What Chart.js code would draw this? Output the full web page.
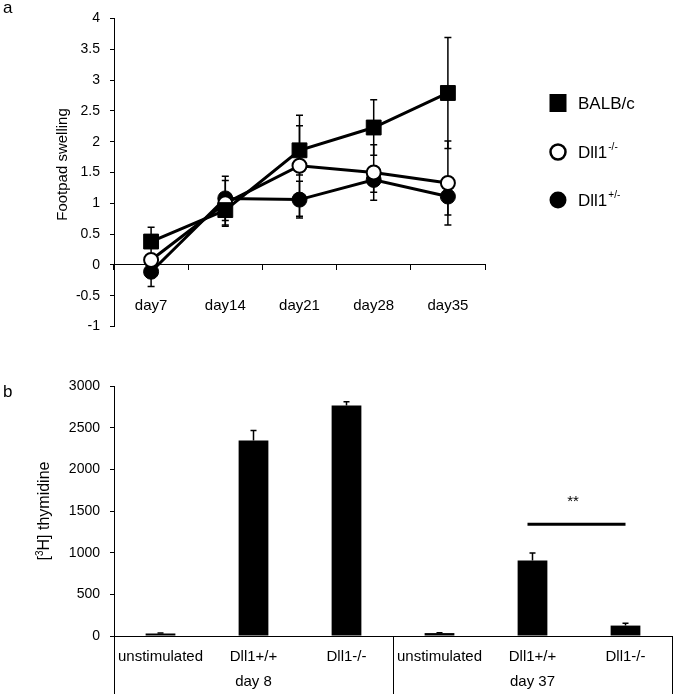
<!DOCTYPE html>
<html>
<head>
<meta charset="utf-8">
<script src="https://cdn.jsdelivr.net/npm/chart.js@4.4.1/dist/chart.umd.min.js"></script>
<style>
  body { margin: 0; background: #fff; }
  #wrap { position: relative; width: 675px; height: 694px; }
  #chartA { position: absolute; left: 0; top: 0; }
  #chartB { position: absolute; left: 0; top: 345px; }
</style>
</head>
<body>
<div id="wrap">
  <canvas id="chartA" width="675" height="345"></canvas>
  <canvas id="chartB" width="675" height="349"></canvas>
</div>
<script>
// panel a: footpad swelling
const days = ['day7', 'day14', 'day21', 'day28', 'day35'];
const balbMean = [0.38, 0.89, 1.86, 2.23, 2.79];
const balbErr = [0.23, 0.24, 0.4, 0.45, 0.9];
const koMean = [0.08, 1.0, 1.61, 1.5, 1.33];
const koErr = [0.1, 0.37, 0.82, 0.45, 0.68];
const hetMean = [-0.11, 1.08, 1.06, 1.38, 1.11];
const hetErr = [0.24, 0.36, 0.3, 0.2, 0.3];
const yTicksA = [-1, -0.5, 0, 0.5, 1, 1.5, 2, 2.5, 3, 3.5, 4];

// panel b: [3H] thymidine
const bCategories = ['unstimulated', 'Dll1+/+', 'Dll1-/-', 'unstimulated', 'Dll1+/+', 'Dll1-/-'];
const bGroups = ['day 8', 'day 37'];
const thymidine = [30, 2345, 2765, 35, 905, 125];
const thymidineErr = [5, 120, 45, 5, 90, 28];
const yTicksB = [0, 500, 1000, 1500, 2000, 2500, 3000];

const FONT = '"Liberation Sans", Arial, sans-serif';
Chart.defaults.font.family = FONT;
Chart.defaults.color = '#000';

// error bars drawn under the line markers
const errorBarsA = {
    id: 'errorBarsA',
    beforeDatasetsDraw(chart) {
        const ctx = chart.ctx;
        const x = chart.scales.x, y = chart.scales.y;
        ctx.save();
        ctx.strokeStyle = '#000';
        ctx.lineWidth = 1.5;
        chart.data.datasets.forEach(ds => {
            ds.data.forEach((v, i) => {
                const px = x.getPixelForValue(i);
                const top = y.getPixelForValue(v + ds.err[i]);
                const bot = y.getPixelForValue(v - ds.err[i]);
                ctx.beginPath();
                ctx.moveTo(px, top); ctx.lineTo(px, bot);
                ctx.moveTo(px - 3.5, top); ctx.lineTo(px + 3.5, top);
                ctx.moveTo(px - 3.5, bot); ctx.lineTo(px + 3.5, bot);
                ctx.stroke();
            });
        });
        ctx.restore();
    }
};

// panel letter, axis title and legend of panel a
const annotA = {
    id: 'annotA',
    afterDraw(chart) {
        const ctx = chart.ctx;
        const y = chart.scales.y;
        ctx.save();
        ctx.fillStyle = '#000';
        ctx.font = '17px ' + FONT;
        ctx.textAlign = 'left';
        ctx.textBaseline = 'alphabetic';
        ctx.fillText('a', 3, 13);

        ctx.save();
        ctx.translate(63, (y.top + y.bottom) / 2 - 8);
        ctx.rotate(-Math.PI / 2);
        ctx.font = '15px ' + FONT;
        ctx.textAlign = 'center';
        ctx.textBaseline = 'middle';
        ctx.fillText('Footpad swelling', 0, 0);
        ctx.restore();

        const items = [
            { text: 'BALB/c', sup: '', kind: 'rect', y: 103 },
            { text: 'Dll1', sup: '-/-', kind: 'open', y: 152 },
            { text: 'Dll1', sup: '+/-', kind: 'dot', y: 200 }
        ];
        const mx = 558;
        items.forEach(it => {
            ctx.beginPath();
            if (it.kind === 'rect') {
                ctx.fillRect(mx - 8.5, it.y - 9, 17, 18);
            } else if (it.kind === 'open') {
                ctx.lineWidth = 2.5;
                ctx.arc(mx, it.y, 7.5, 0, Math.PI * 2);
                ctx.fillStyle = '#fff';
                ctx.fill();
                ctx.strokeStyle = '#000';
                ctx.stroke();
                ctx.fillStyle = '#000';
            } else {
                ctx.arc(mx, it.y, 8.5, 0, Math.PI * 2);
                ctx.fill();
            }
            ctx.font = '17px ' + FONT;
            ctx.textAlign = 'left';
            ctx.textBaseline = 'middle';
            ctx.fillText(it.text, 578, it.y + 1);
            if (it.sup) {
                const w = ctx.measureText(it.text).width;
                ctx.font = '10px ' + FONT;
                ctx.fillText(it.sup, 578 + w + 1, it.y - 5);
            }
        });
        ctx.restore();
    }
};

new Chart(document.getElementById('chartA'), {
    type: 'line',
    data: {
        labels: days,
        datasets: [
            { label: 'BALB/c', data: balbMean, err: balbErr, borderColor: '#000', borderWidth: 3,
              pointStyle: 'rect', pointRadius: 10.5, pointBackgroundColor: '#000', pointBorderColor: '#000', pointBorderWidth: 1 },
            { label: 'Dll1-/-', data: koMean, err: koErr, borderColor: '#000', borderWidth: 3,
              pointStyle: 'circle', pointRadius: 7, pointBackgroundColor: '#fff', pointBorderColor: '#000', pointBorderWidth: 2 },
            { label: 'Dll1+/-', data: hetMean, err: hetErr, borderColor: '#000', borderWidth: 3,
              pointStyle: 'circle', pointRadius: 7.5, pointBackgroundColor: '#000', pointBorderColor: '#000', pointBorderWidth: 1 }
        ]
    },
    options: {
        responsive: false,
        animation: false,
        layout: { padding: { left: 0, right: 190, top: 13, bottom: 14 } },
        plugins: { legend: { display: false }, tooltip: { enabled: false } },
        scales: {
            x: {
                position: { y: 0 },
                offset: true,
                grid: { offset: true, drawOnChartArea: false, color: '#000', tickLength: 5 },
                border: { color: '#000', width: 1 },
                ticks: { padding: 27, color: '#000', font: { size: 15 }, maxRotation: 0 }
            },
            y: {
                min: -1, max: 4,
                afterBuildTicks(s) { s.ticks = yTicksA.map(v => ({ value: v })); },
                grid: { drawOnChartArea: false, color: '#000', tickLength: 4 },
                border: { color: '#000', width: 1 },
                ticks: { padding: 10, color: '#000', font: { size: 14 }, callback: v => String(v) },
                afterFit(s) { s.width = 114; }
            }
        }
    },
    plugins: [errorBarsA, annotA]
});

// error bars, separators, group labels and significance for panel b
const annotB = {
    id: 'annotB',
    afterDatasetsDraw(chart) {
        const ctx = chart.ctx;
        const x = chart.scales.x, y = chart.scales.y;
        ctx.save();
        ctx.strokeStyle = '#000';
        ctx.lineWidth = 1.5;
        thymidine.forEach((v, i) => {
            const px = x.getPixelForValue(i);
            const top = y.getPixelForValue(v + thymidineErr[i]);
            ctx.beginPath();
            ctx.moveTo(px, y.getPixelForValue(v)); ctx.lineTo(px, top);
            ctx.moveTo(px - 3, top); ctx.lineTo(px + 3, top);
            ctx.stroke();
        });
        ctx.restore();
    },
    afterDraw(chart) {
        const ctx = chart.ctx;
        const x = chart.scales.x, y = chart.scales.y;
        const area = chart.chartArea;
        const H = chart.height;
        ctx.save();
        ctx.strokeStyle = '#000';
        ctx.fillStyle = '#000';
        ctx.lineWidth = 1;
        const mid = (x.getPixelForValue(2) + x.getPixelForValue(3)) / 2;
        [area.left, mid, area.right].forEach(px => {
            ctx.beginPath();
            ctx.moveTo(Math.round(px) + 0.5, area.bottom);
            ctx.lineTo(Math.round(px) + 0.5, H);
            ctx.stroke();
        });
        ctx.font = '15px ' + FONT;
        ctx.textAlign = 'center';
        ctx.textBaseline = 'middle';
        ctx.fillText(bGroups[0], x.getPixelForValue(1), 337);
        ctx.fillText(bGroups[1], x.getPixelForValue(4), 337);

        // significance bar
        const sy = y.getPixelForValue(1340);
        ctx.lineWidth = 3;
        ctx.beginPath();
        ctx.moveTo(x.getPixelForValue(4) - 5, sy);
        ctx.lineTo(x.getPixelForValue(5), sy);
        ctx.stroke();
        ctx.font = '15px ' + FONT;
        ctx.fillText('**', (x.getPixelForValue(4) + x.getPixelForValue(5)) / 2 - 6, y.getPixelForValue(1610));

        ctx.font = '17px ' + FONT;
        ctx.textAlign = 'left';
        ctx.textBaseline = 'alphabetic';
        ctx.fillText('b', 3, 52);

        // y title with superscript
        ctx.translate(45, (area.top + area.bottom) / 2);
        ctx.rotate(-Math.PI / 2);
        const big = '16px ' + FONT, small = '10px ' + FONT;
        ctx.font = big;
        const w1 = ctx.measureText('[').width;
        const w3 = ctx.measureText('H] thymidine').width;
        ctx.font = small;
        const w2 = ctx.measureText('3').width;
        let cx = -(w1 + w2 + w3) / 2;
        ctx.textBaseline = 'middle';
        ctx.font = big;
        ctx.fillText('[', cx, 0); cx += w1;
        ctx.font = small;
        ctx.fillText('3', cx, -5); cx += w2;
        ctx.font = big;
        ctx.fillText('H] thymidine', cx, 0);
        ctx.restore();
    }
};

new Chart(document.getElementById('chartB'), {
    type: 'bar',
    data: {
        labels: bCategories,
        datasets: [{
            data: thymidine,
            backgroundColor: '#000',
            borderWidth: 0,
            barPercentage: 1,
            categoryPercentage: 0.32
        }]
    },
    options: {
        responsive: false,
        animation: false,
        layout: { padding: { left: 0, right: 3, top: 41, bottom: 0 } },
        plugins: { legend: { display: false }, tooltip: { enabled: false } },
        scales: {
            x: {
                grid: { display: true, drawOnChartArea: false, drawTicks: false },
                border: { color: '#000', width: 1 },
                ticks: { padding: 12, color: '#000', font: { size: 15 }, maxRotation: 0, autoSkip: false },
                afterFit(s) { s.height = 58; }
            },
            y: {
                min: 0, max: 3000,
                afterBuildTicks(s) { s.ticks = yTicksB.map(v => ({ value: v })); },
                grid: { drawOnChartArea: false, color: '#000', tickLength: 4 },
                border: { color: '#000', width: 1 },
                ticks: { padding: 10, color: '#000', font: { size: 14 }, callback: v => String(v) },
                afterFit(s) { s.width = 114; }
            }
        }
    },
    plugins: [annotB]
});
</script>
</body>
</html>
